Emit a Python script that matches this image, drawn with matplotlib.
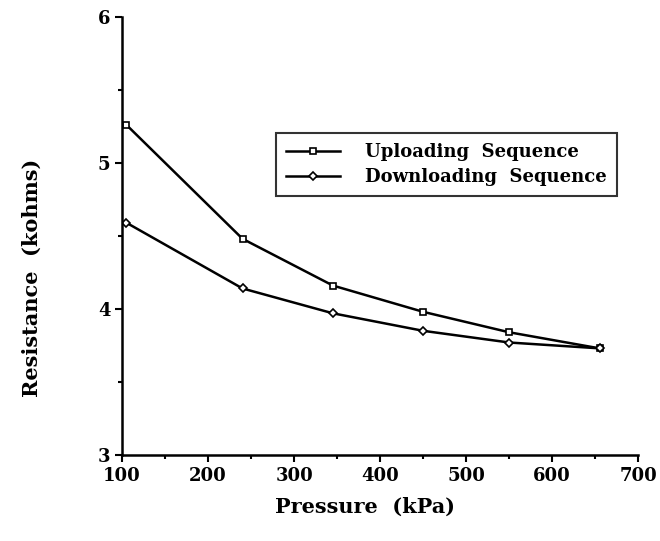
import matplotlib.pyplot as plt
from matplotlib.ticker import MultipleLocator

pressure = [105, 240, 345, 450, 550, 655]
uploading = [5.26, 4.48, 4.16, 3.98, 3.84, 3.73]
downloading = [4.59, 4.14, 3.97, 3.85, 3.77, 3.73]

plt.rcParams["font.family"] = "DejaVu Serif"
plt.rcParams["font.weight"] = "bold"

fig = plt.figure(figsize=(6.6, 5.41), dpi=100)
ax = fig.add_axes([0.185, 0.159, 0.782, 0.81])

ax.plot(pressure, uploading, c="k", lw=1.8, marker="s", ms=5, mfc="white",
        mec="k", mew=1.2, label="Uploading  Sequence")
ax.plot(pressure, downloading, c="k", lw=1.8, marker="D", ms=4.5, mfc="white",
        mec="k", mew=1.2, label="Downloading  Sequence")

ax.set_xlim(100, 700)
ax.set_ylim(3, 6)
ax.xaxis.set_major_locator(MultipleLocator(100))
ax.xaxis.set_minor_locator(MultipleLocator(50))
ax.yaxis.set_major_locator(MultipleLocator(1))
ax.yaxis.set_minor_locator(MultipleLocator(0.5))
ax.tick_params(which="both", direction="out", width=1.5, labelsize=13)
ax.tick_params(which="major", length=5)
ax.tick_params(which="minor", length=3)
ax.tick_params(axis="x", pad=4)
for side in ["top", "right"]:
    ax.spines[side].set_visible(False)
for side in ["left", "bottom"]:
    ax.spines[side].set_linewidth(1.8)

ax.set_xlabel("Pressure  (kPa)", fontsize=15, fontweight="bold")
ax.set_ylabel("Resistance  (kohms)", fontsize=15, fontweight="bold")
ax.xaxis.set_label_coords(0.47, -0.096)
ax.yaxis.set_label_coords(-0.155, 0.404)

leg = ax.legend(loc="upper left", bbox_to_anchor=(0.298, 0.735), fontsize=13,
                frameon=True, fancybox=False, edgecolor="k", handlelength=3,
                borderpad=0.55, labelspacing=0.4, handletextpad=1.4,
                borderaxespad=0)
leg.get_frame().set_linewidth(1.5)

fig.savefig("out.png", dpi=100)
